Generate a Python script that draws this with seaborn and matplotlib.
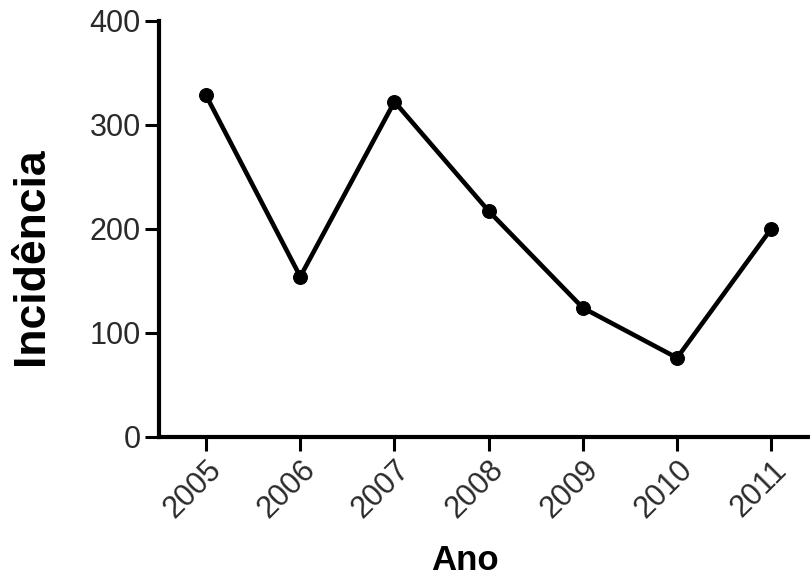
import matplotlib
matplotlib.use("Agg")
import matplotlib.pyplot as plt
import seaborn as sns
import pandas as pd

# Annual incidence series
anos = ["2005", "2006", "2007", "2008", "2009", "2010", "2011"]
incidencia = [328, 154, 322, 217, 124, 76, 200]
y_ticks = [0, 100, 200, 300, 400]

df = pd.DataFrame({"Ano": anos, "Incidência": incidencia})

sns.set_theme(style="ticks")
plt.rcParams["font.family"] = ["Liberation Sans", "DejaVu Sans"]

fig = plt.figure(figsize=(8.1, 5.79), dpi=100)
ax = fig.add_axes([159 / 810, 1 - 437 / 579, (808 - 159) / 810, (437 - 20.5) / 579])

sns.lineplot(data=df, x="Ano", y="Incidência", ax=ax, color="black",
             linewidth=3.3, marker="o", markersize=10,
             markeredgecolor="black", markerfacecolor="black", sort=False)

ax.set_xlim(-0.5, 6.39)
ax.set_ylim(0, 400)
ax.set_yticks(y_ticks)
ax.set_yticklabels([str(v) for v in y_ticks])
ax.set_xticks(range(len(anos)))
ax.set_xticklabels(anos)

for side in ("top", "right"):
    ax.spines[side].set_visible(False)
for side in ("left", "bottom"):
    ax.spines[side].set_linewidth(3)
    ax.spines[side].set_color("black")
    ax.spines[side].set_capstyle("projecting")

ax.tick_params(axis="both", length=10, width=2.2, color="black",
               labelsize=22, labelcolor="#2a2a2a", pad=3)
for lbl in ax.get_xticklabels():
    lbl.set_rotation(45)
    lbl.set_ha("right")
    lbl.set_rotation_mode("anchor")

ax.set_xlabel("Ano", fontsize=25, fontweight="bold", color="black")
ax.set_ylabel("Incidência", fontsize=32, fontweight="bold", color="black")
ax.xaxis.label.set_va("center")
ax.xaxis.label.set_ha("center")
ax.yaxis.label.set_va("center")
ax.yaxis.label.set_ha("center")
ax.xaxis.set_label_coords((465 - 159) / 649, (437 - 561) / 416.5)
ax.yaxis.set_label_coords((32 - 159) / 649, (437 - 256) / 416.5)

fig.savefig("out.png", dpi=100, facecolor="white")
